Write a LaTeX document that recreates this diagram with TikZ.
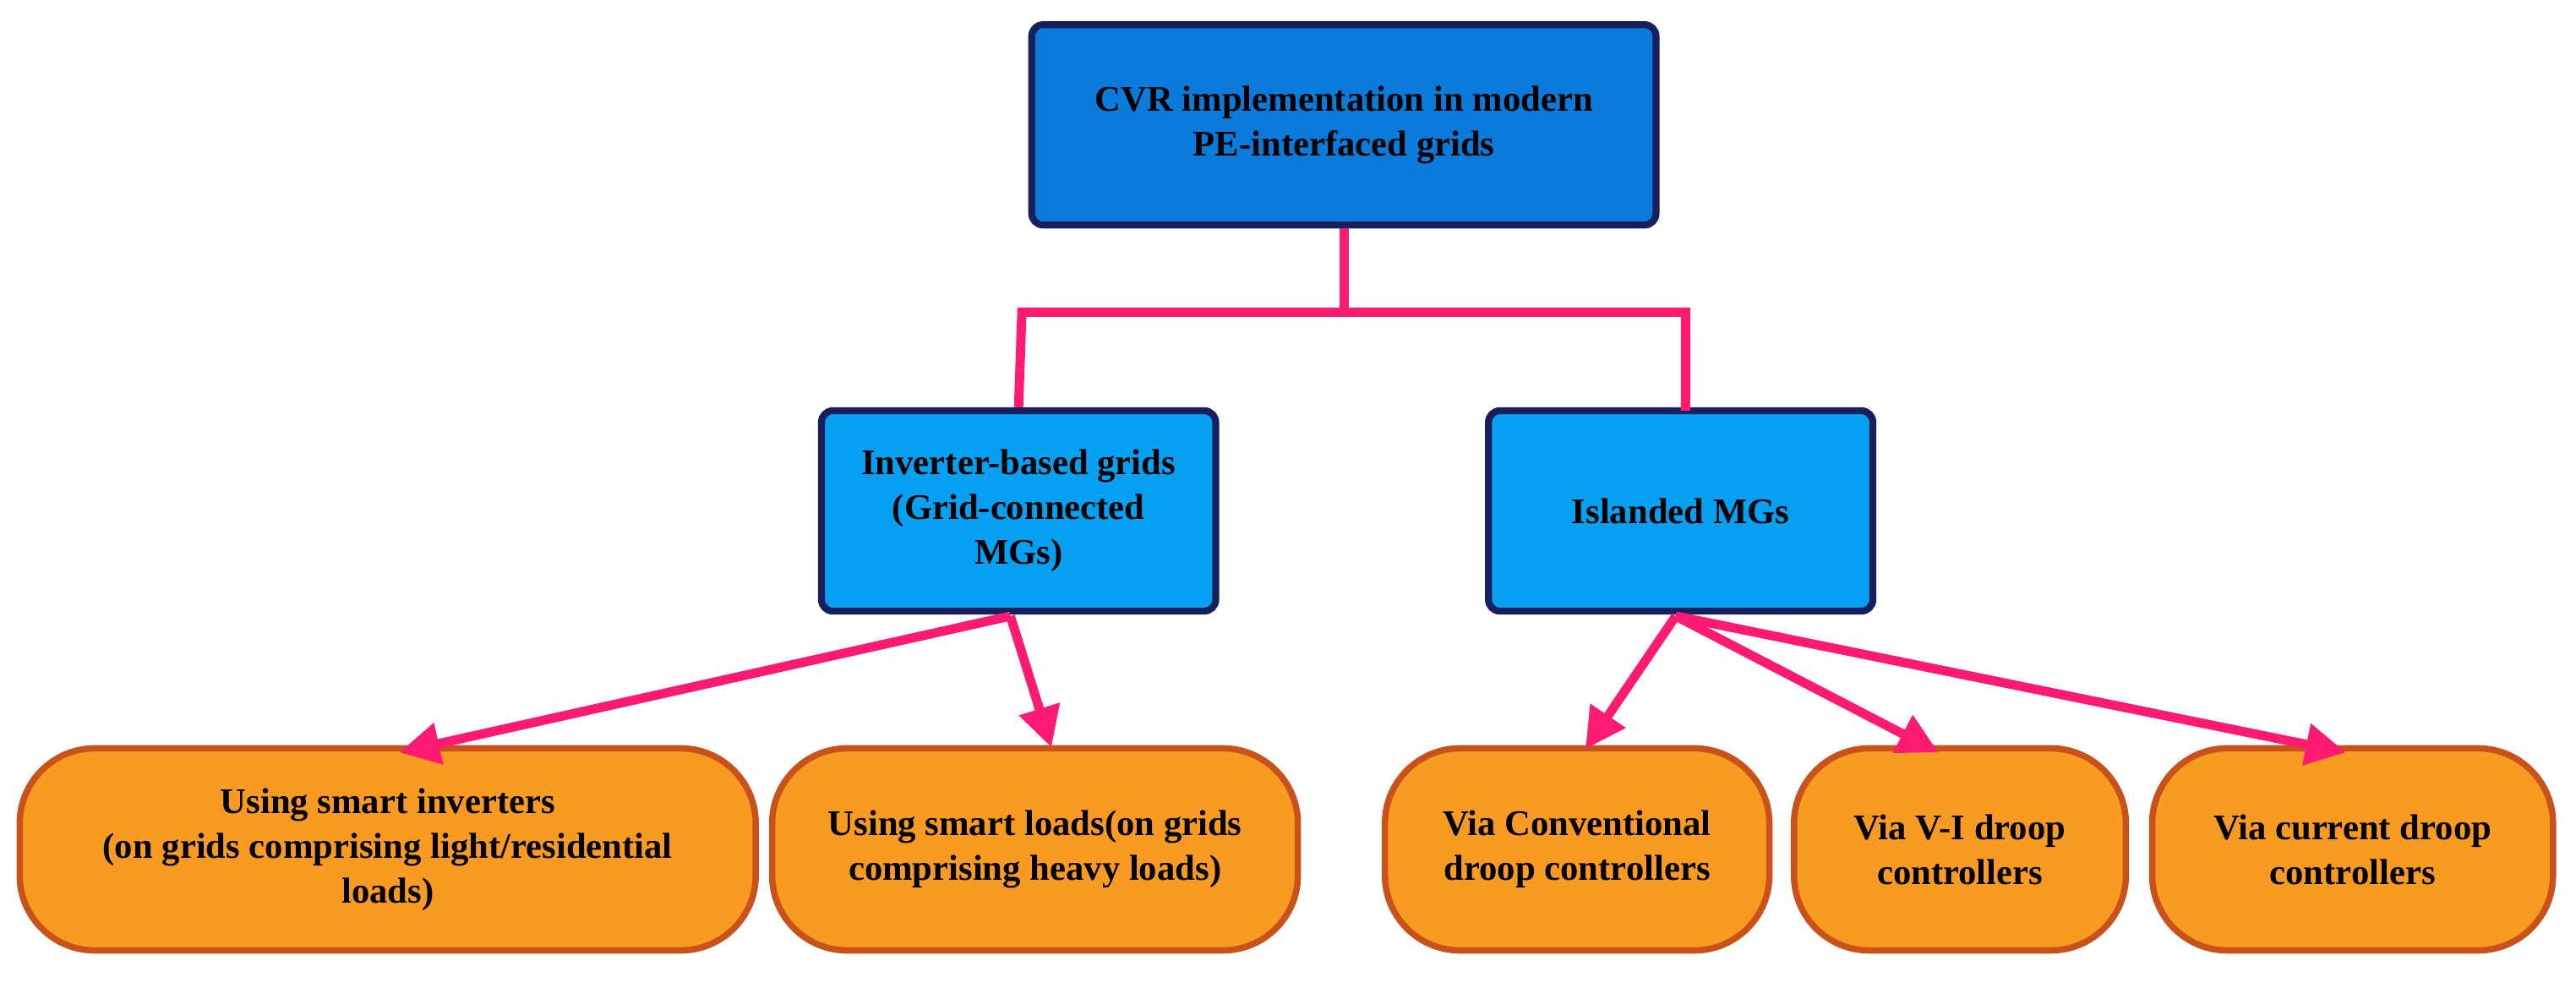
\documentclass[tikz,border=0pt]{standalone}
\usepackage{fontspec}
\setmainfont{Liberation Serif}
\usetikzlibrary{arrows.meta}
\definecolor{topblue}{HTML}{0A7BDA}
\definecolor{midblue}{HTML}{05A0F2}
\definecolor{navy}{HTML}{17205C}
\definecolor{orfill}{HTML}{F99A22}
\definecolor{ordraw}{HTML}{C9521B}
\definecolor{pinkline}{HTML}{FF1A72}
\begin{document}
\begin{tikzpicture}[x=0.02cm,y=-0.02cm,
 bluebox/.style={draw=navy,line width=2.4pt,rounded corners=4pt,align=center,font=\bfseries\fontsize{12.5}{15.5}\selectfont},
 orbox/.style={draw=ordraw,fill=orfill,line width=2.2pt,rounded corners=26pt,align=center,font=\bfseries\fontsize{12.5}{15.5}\selectfont},
 conn/.style={draw=pinkline,line width=3.2pt},
 arr/.style={conn,-{Triangle[length=14pt,width=14pt]}}]
\useasboundingbox (0,0) rectangle (1568,601);
\node[bluebox,fill=topblue,minimum width=380*0.02cm,minimum height=122*0.02cm] (top) at (818,76) {CVR implementation in modern\\PE-interfaced grids};
\node[bluebox,fill=midblue,minimum width=240*0.02cm,minimum height=122*0.02cm] (inv) at (620,311) {Inverter-based grids\\(Grid-connected\\MGs)};
\node[bluebox,fill=midblue,minimum width=234*0.02cm,minimum height=122*0.02cm] (isl) at (1023,311) {Islanded MGs};
\node[orbox,minimum width=448*0.02cm,minimum height=123*0.02cm] (b1) at (236,517) {Using smart inverters\\(on grids comprising light/residential\\loads)};
\node[orbox,minimum width=320*0.02cm,minimum height=123*0.02cm] (b2) at (630,517) {Using smart loads(on grids\\comprising heavy loads)};
\node[orbox,minimum width=234*0.02cm,minimum height=123*0.02cm] (b3) at (960,517) {Via Conventional\\droop controllers};
\node[orbox,minimum width=202*0.02cm,minimum height=123*0.02cm] (b4) at (1193,517) {Via V-I droop\\controllers};
\node[orbox,minimum width=244*0.02cm,minimum height=123*0.02cm] (b5) at (1432,517) {Via current droop\\controllers};
\coordinate (j) at (818,190);
\draw[conn] (top.south) -- (j);
\draw[conn] (inv.north) -- (622,190) -- (1026,190) -- (1026,250);
\coordinate (ia) at (615,375);
\coordinate (sa) at (1020,375);
\draw[arr] (ia) -- (243,458);
\draw[arr] (ia) -- (640,455);
\draw[arr] (sa) -- (965,456);
\draw[arr] (sa) -- (1180,458);
\draw[arr] (sa) -- (1428,458);
\end{tikzpicture}
\end{document}
